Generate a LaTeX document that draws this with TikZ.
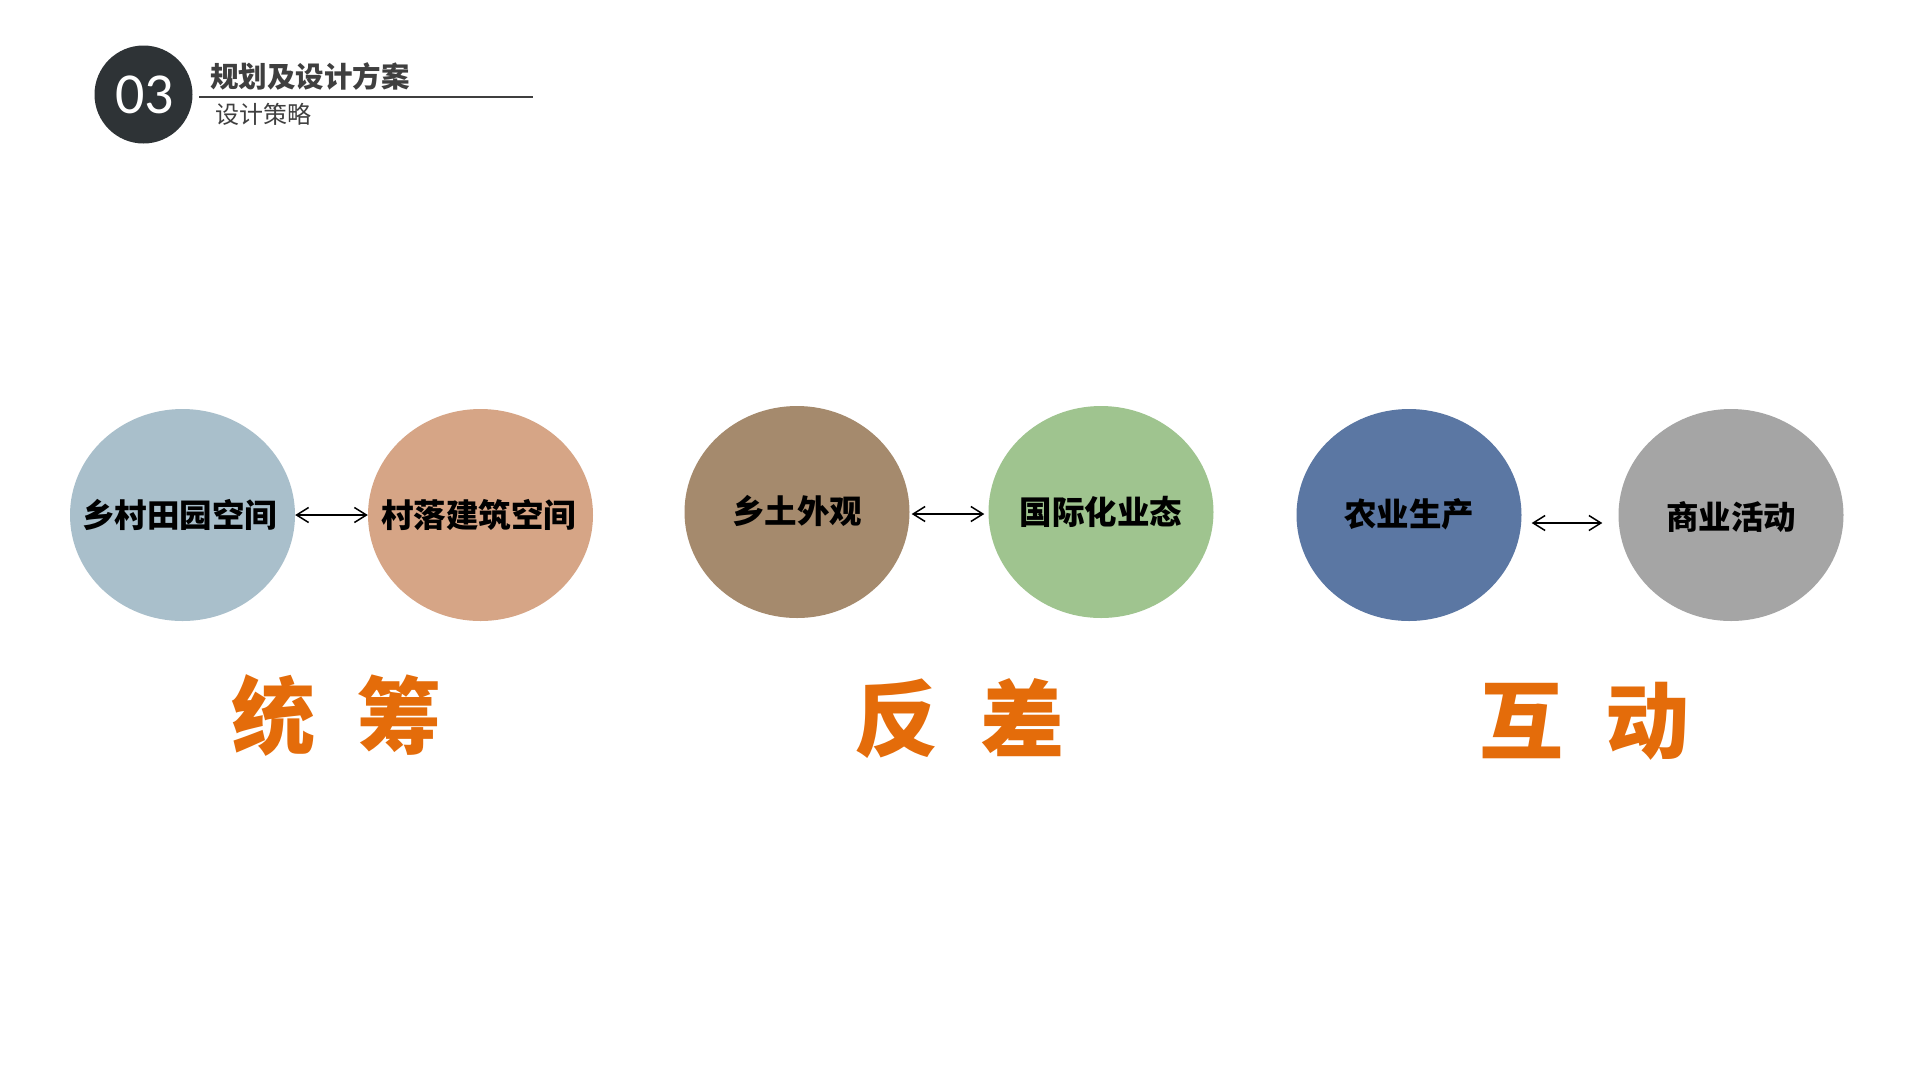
\documentclass[tikz,border=0pt]{standalone}
\usepackage{fontspec}
\newfontfamily\cjk{Noto Sans CJK SC}
\newfontfamily\numfont{Carlito}
\usetikzlibrary{shapes.geometric,arrows.meta}
\definecolor{badge}{HTML}{2E3336}
\definecolor{ink}{HTML}{3F3F3F}
\definecolor{accent}{HTML}{E46C0A}
\definecolor{cA}{HTML}{A9BFCB}
\definecolor{cB}{HTML}{D6A586}
\definecolor{cC}{HTML}{A58A6D}
\definecolor{cD}{HTML}{9FC48F}
\definecolor{cE}{HTML}{5B77A3}
\definecolor{cF}{HTML}{A5A5A5}
\begin{document}
\begin{tikzpicture}[x=1pt,y=-1pt,
   font=\cjk,
   every node/.style={inner sep=0pt},
   blob/.style={ellipse,minimum width=225pt,minimum height=212pt},
   word/.style={font=\cjk\bfseries\fontsize{32.5}{36}\selectfont,text=black},
   big/.style={font=\cjk\bfseries\fontsize{84}{90}\selectfont,text=accent},
   link/.style={{Straight Barb[length=12pt,width=15pt]}-{Straight Barb[length=12pt,width=15pt]},line width=1.5pt}]
\useasboundingbox[fill=white] (0,0) rectangle (1920,1080);
% header
\node[circle,fill=badge,minimum size=98pt] (num) at (143.5,94.5) {};
\node[text=white,font=\numfont\fontsize{58}{62}\selectfont] at ([xshift=1pt]num) {03};
\node[anchor=west,text=ink,font=\cjk\bfseries\fontsize{28.5}{32}\selectfont] (title) at (210,76) {规划及设计方案};
\node[anchor=west,text=ink,font=\cjk\fontsize{24}{28}\selectfont] (sub) at (215,114) {设计策略};
\coordinate (r0) at (199,97);
\coordinate (r1) at (533,97);
\draw[ink,line width=1.2pt] (r0) -- (r1);
% pairs
\node[blob,fill=cA] (e1) at (182.5,515) {};
\node[blob,fill=cB] (e2) at (480.5,515) {};
\node[blob,fill=cC] (e3) at (797,512) {};
\node[blob,fill=cD] (e4) at (1101,512) {};
\node[blob,fill=cE] (e5) at (1409,515) {};
\node[blob,fill=cF] (e6) at (1731,515) {};
\node[word] at ([xshift=-3pt]e1) {乡村田园空间};
\node[word] at ([xshift=-2pt]e2) {村落建筑空间};
\node[word] at ([yshift=1pt]e3) {乡土外观};
\node[word] at (e4) {国际化业态};
\node[word] at ([yshift=1pt]e5) {农业生产};
\node[word] at ([yshift=-2pt]e6) {商业活动};
\draw[link] (e1.east) -- (e2.west);
\draw[link] ([xshift=2pt,yshift=-2pt]e3.east) -- ([xshift=-4pt,yshift=-2pt]e4.west);
\draw[link] ([xshift=10pt,yshift=-8pt]e5.east) -- ([xshift=-16pt,yshift=-8pt]e6.west);
% keywords
\node[big] (k1) at (336,715) {统\hspace{0.5em}筹};
\node[big] (k2) at (959.5,719) {反\hspace{0.5em}差};
\node[big] (k3) at (1584,721) {互\hspace{0.5em}动};
\end{tikzpicture}
\end{document}
